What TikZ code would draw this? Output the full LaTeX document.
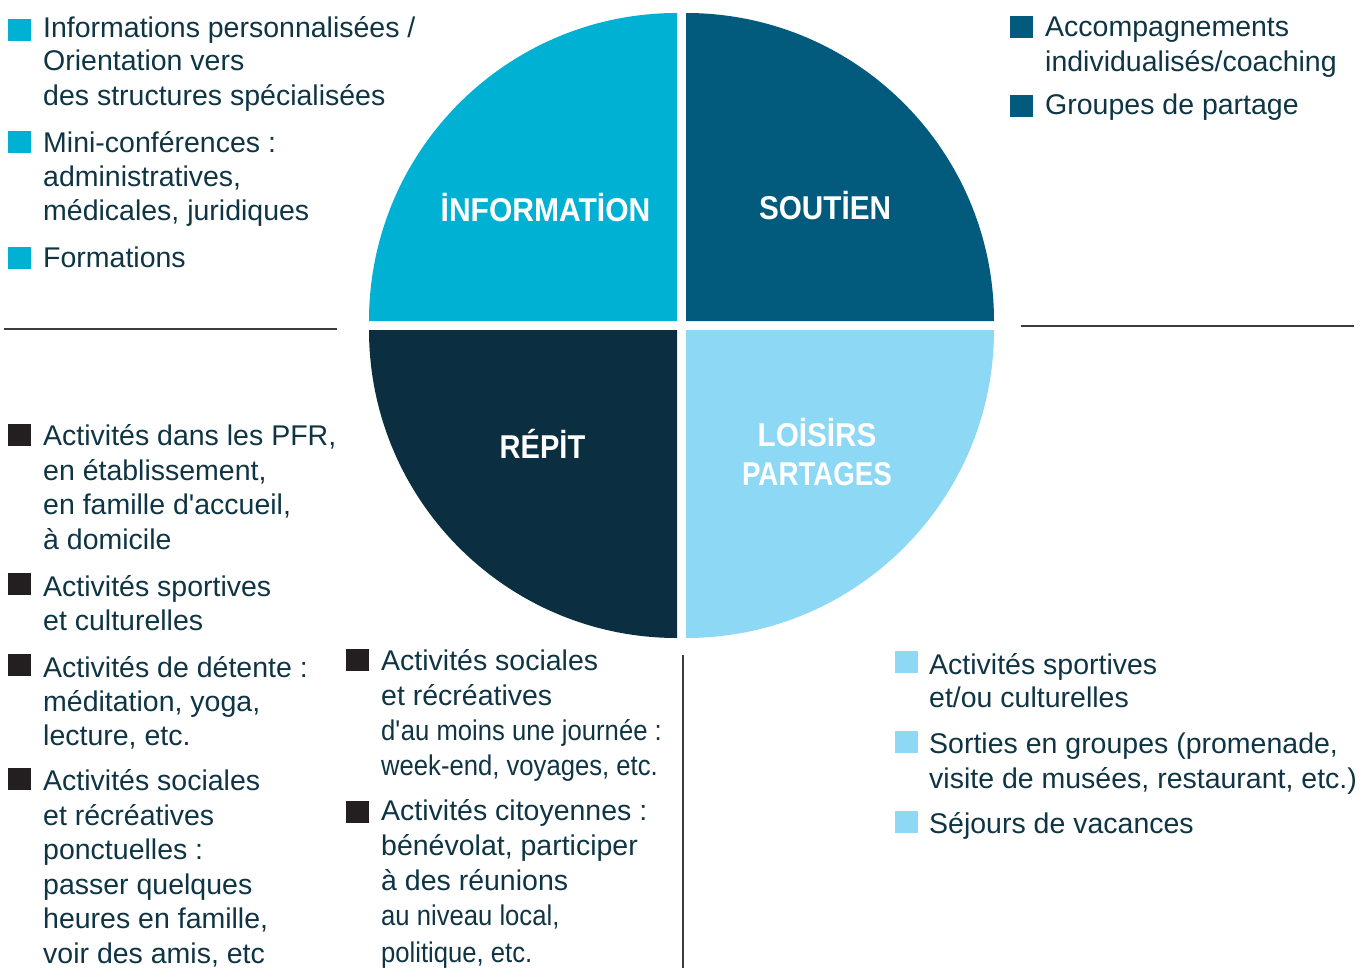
\documentclass[tikz,border=0pt]{standalone}
\usepackage{fontspec}
\setmainfont{Liberation Sans}
\newfontfamily\condfont[FakeStretch=0.9]{Liberation Sans}
\definecolor{txtcol}{HTML}{0F3544}
\definecolor{cinfo}{HTML}{00B1D4}
\definecolor{csout}{HTML}{025B7D}
\definecolor{crepit}{HTML}{0B2F40}
\definecolor{cloisir}{HTML}{8DD8F5}
\definecolor{cbul}{HTML}{231F20}
\definecolor{cline}{HTML}{3C3C3C}
\tikzset{
  txt/.style={anchor=base west, inner sep=0pt, text=txtcol, font=\fontsize{28.5}{34}\selectfont},
  ctxt/.style={txt, font=\fontsize{28.5}{34}\selectfont\condfont},
  bul/.style={anchor=south west, inner sep=0pt, minimum width=23pt, minimum height=22pt, fill=#1},
  lbl/.style={anchor=base, inner sep=0pt, text=white, font=\fontsize{33}{38}\selectfont\bfseries},
  sep/.style={draw=cline, line width=1.2pt},
  quad/.style={fill=#1, draw=none}
}
\begin{document}
\begin{tikzpicture}[x=1pt,y=-1pt]
\useasboundingbox (0,0) rectangle (1365,968);
% quadrants
\fill[cinfo] (677,321) -- (369,321) arc[start angle=180, end angle=270, radius=308] -- cycle;
\fill[csout] (686,321) -- (686,13) arc[start angle=270, end angle=360, radius=308] -- cycle;
\fill[crepit] (677,330) -- (677,638) arc[start angle=90, end angle=180, radius=308] -- cycle;
\fill[cloisir] (686,330) -- (994,330) arc[start angle=0, end angle=90, radius=308] -- cycle;
% labels
\node[lbl] (qinfo) at (545.5,221.5) {\scalebox{0.91}[1]{İNFORMATİON}};
\node[lbl] (qsout) at (825,219.5) {\scalebox{0.9}[1]{SOUTİEN}};
\node[lbl] (qrepit) at (542.5,458) {\scalebox{0.88}[1]{RÉPİT}};
\node[lbl] (qlois) at (817,446) {\scalebox{0.9}[1]{LOİSİRS}};
\node[lbl] (qpart) at (817,485) {\scalebox{0.84}[1]{PARTAGES}};
% separators
\coordinate (sl1) at (4,329); \coordinate (sl2) at (337,329);
\coordinate (sr1) at (1021,326); \coordinate (sr2) at (1354,326);
\coordinate (sv1) at (683,655); \coordinate (sv2) at (683,968);
\draw[sep] (sl1) -- (sl2);
\draw[sep] (sr1) -- (sr2);
\draw[sep] (sv1) -- (sv2);
% top-left
\node[bul=cinfo] (b1) at (8,41) {};
\node[txt] (t1a) at (43,37.5) {Informations personnalisées /};
\node[txt] (t1b) at (43,71) {Orientation vers};
\node[txt] (t1c) at (43,105.5) {des structures spécialisées};
\node[bul=cinfo] (b2) at (8,153) {};
\node[txt] (t2a) at (43,152.5) {Mini-conférences :};
\node[txt] (t2b) at (43,186.5) {administratives,};
\node[txt] (t2c) at (43,220.5) {médicales, juridiques};
\node[bul=cinfo] (b3) at (8,269) {};
\node[txt] (t3a) at (43,268) {Formations};
% top-right
\node[bul=csout] (b4) at (1010,38) {};
\node[txt] (t4a) at (1045,37) {Accompagnements};
\node[txt] (t4b) at (1045,72) {individualisés/coaching};
\node[bul=csout] (b5) at (1010,117) {};
\node[txt] (t5a) at (1045,115) {Groupes de partage};
% left middle
\node[bul=cbul] (b6) at (8,446) {};
\node[txt] (t6a) at (43,445) {Activités dans les PFR,};
\node[txt] (t6b) at (43,480) {en établissement,};
\node[txt] (t6c) at (43,514) {en famille d\textquotesingle accueil,};
\node[txt] (t6d) at (43,549) {à domicile};
\node[bul=cbul] (b7) at (8,595) {};
\node[txt] (t7a) at (43,596) {Activités sportives};
\node[txt] (t7b) at (43,630) {et culturelles};
\node[bul=cbul] (b8) at (8,676) {};
\node[txt] (t8a) at (43,677) {Activités de détente :};
\node[txt] (t8b) at (43,711) {méditation, yoga,};
\node[txt] (t8c) at (43,745) {lecture, etc.};
\node[bul=cbul] (b9) at (8,790) {};
\node[txt] (t9a) at (43,790) {Activités sociales};
\node[txt] (t9b) at (43,825) {et récréatives};
\node[txt] (t9c) at (43,859) {ponctuelles :};
\node[txt] (t9d) at (43,894) {passer quelques};
\node[txt] (t9e) at (43,928) {heures en famille,};
\node[txt] (t9f) at (43,963) {voir des amis, etc};
% middle
\node[bul=cbul] (b10) at (346,671) {};
\node[txt] (t10a) at (381,670) {Activités sociales};
\node[txt] (t10b) at (381,705) {et récréatives};
\node[ctxt] (t10c) at (381,740) {d\textquotesingle au moins une journée :};
\node[ctxt] (t10d) at (381,775) {week-end, voyages, etc.};
\node[bul=cbul] (b11) at (346,823) {};
\node[txt] (t11a) at (381,820) {Activités citoyennes :};
\node[txt] (t11b) at (381,855) {bénévolat, participer};
\node[txt] (t11c) at (381,890) {à des réunions};
\node[ctxt] (t11d) at (381,925) {au niveau local,};
\node[ctxt] (t11e) at (381,962) {politique, etc.};
% right bottom
\node[bul=cloisir] (b12) at (895,673) {};
\node[txt] (t12a) at (929,674) {Activités sportives};
\node[txt] (t12b) at (929,707) {et/ou culturelles};
\node[bul=cloisir] (b13) at (895,753) {};
\node[txt] (t13a) at (929,753) {Sorties en groupes (promenade,};
\node[txt] (t13b) at (929,788) {visite de musées, restaurant, etc.)};
\node[bul=cloisir] (b14) at (895,833) {};
\node[txt] (t14a) at (929,833) {Séjours de vacances};
\end{tikzpicture}
\end{document}
